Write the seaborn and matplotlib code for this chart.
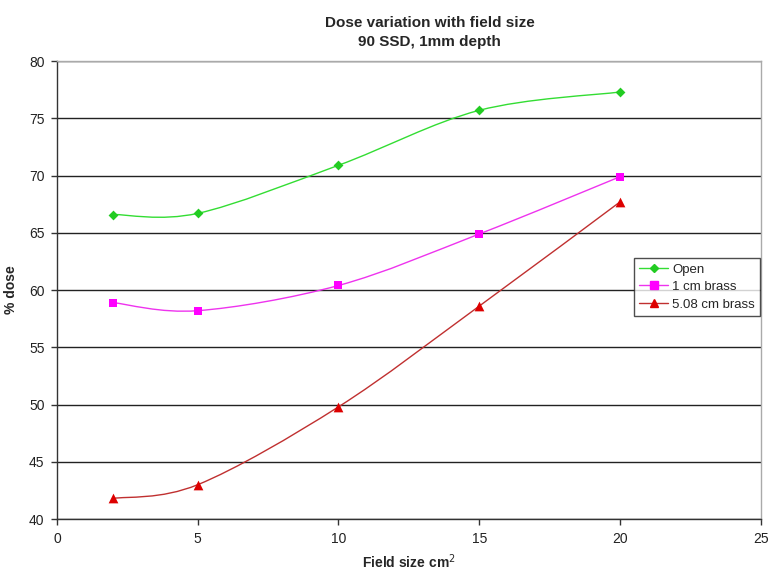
import numpy as np
import pandas as pd
import matplotlib
matplotlib.use('Agg')
import matplotlib.pyplot as plt
from matplotlib.path import Path
from matplotlib.patches import PathPatch
from matplotlib.lines import Line2D
import seaborn as sns

# data
field_size = [2, 5, 10, 15, 20]
open_dose = [66.6, 66.7, 70.9, 75.7, 77.3]
brass_1cm = [58.9, 58.2, 60.4, 64.9, 69.9]
brass_508cm = [41.8, 43.0, 49.8, 58.6, 67.7]
series_names = ['Open', '1 cm brass', '5.08 cm brass']

line_colors = ['#33dd33', '#ee33ee', '#c03030']
marker_colors = ['#22cc22', '#ff00ff', '#dd0000']
markers = ['D', 's', '^']
marker_sizes = [5, 6, 7]

sns.set_style('white')
plt.rcParams['font.family'] = ['Liberation Sans', 'DejaVu Sans']

df = pd.DataFrame({'x': field_size * 3,
                   'y': open_dose + brass_1cm + brass_508cm,
                   'series': [s for s in series_names for _ in field_size]})

fig = plt.figure(figsize=(7.7, 5.71), dpi=100)
ax = fig.add_axes([0.074, 0.091, 0.914, 0.802])


def smooth_path(xs, ys):
    # Excel-style smoothed line: cubic Bezier through the points
    pts = np.column_stack([xs, ys]).astype(float)
    verts = [pts[0]]
    codes = [Path.MOVETO]
    n = len(pts)
    for i in range(n - 1):
        p0 = pts[i - 1] if i > 0 else pts[i]
        p1, p2 = pts[i], pts[i + 1]
        p3 = pts[i + 2] if i + 2 < n else pts[i + 1]
        c1 = p1 + (p2 - p0) / 6.0
        c2 = p2 - (p3 - p1) / 6.0
        verts += [c1, c2, p2]
        codes += [Path.CURVE4] * 3
    return Path(verts, codes)


handles = []
for name, lc, mc, mk, ms in zip(series_names, line_colors, marker_colors, markers, marker_sizes):
    sub = df[df['series'] == name]
    ax.add_patch(PathPatch(smooth_path(sub['x'], sub['y']), fill=False,
                           edgecolor=lc, lw=1.0, zorder=3))
    sns.scatterplot(data=sub, x='x', y='y', marker=mk, color=mc, s=ms ** 2,
                    edgecolor=mc, linewidth=0, ax=ax, zorder=4, legend=False)
    handles.append(Line2D([], [], color=lc, lw=1.0, marker=mk, markersize=ms * 0.9,
                          markerfacecolor=mc, markeredgecolor=mc, label=name))

ax.set_xlim(0, 25)
ax.set_ylim(40, 80)
ax.set_xticks(range(0, 26, 5))
ax.set_yticks(range(40, 81, 5))
ax.yaxis.grid(True, color='#222222', lw=1.0)
ax.set_axisbelow(True)
for side in ['left', 'bottom']:
    ax.spines[side].set_color('#333333')
    ax.spines[side].set_linewidth(1.0)
for side in ['top', 'right']:
    ax.spines[side].set_color('#aaaaaa')
    ax.spines[side].set_linewidth(1.0)
ax.tick_params(axis='both', direction='out', length=4, width=1, color='#333333',
               labelsize=10, pad=5, bottom=True, left=True, labelcolor='#222222')

ax.set_xlabel('Field size cm$^2$', fontsize=10, fontweight='bold', labelpad=5)
ax.set_ylabel('% dose', fontsize=10, fontweight='bold', labelpad=8)
fig.suptitle('Dose variation with field size\n90 SSD, 1mm depth', fontsize=11,
             fontweight='bold', x=0.558, y=0.972, linespacing=1.5)

leg = ax.legend(handles=handles, loc='upper left', bbox_to_anchor=(0.82, 0.57),
                frameon=True, fancybox=False, edgecolor='#222222', fontsize=9.5,
                handlelength=2.2, handletextpad=0.3, borderpad=0.4, labelspacing=0.4,
                borderaxespad=0)
leg.get_frame().set_linewidth(1.0)

fig.savefig('out.png', dpi=100)
